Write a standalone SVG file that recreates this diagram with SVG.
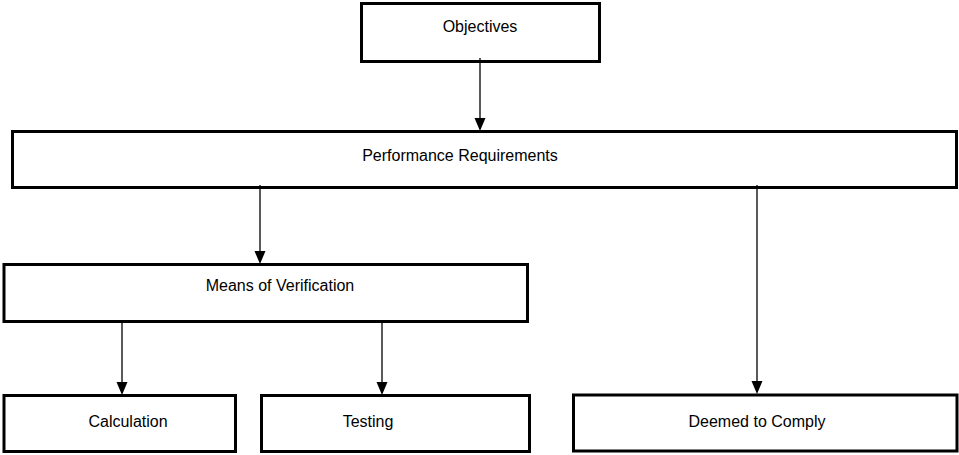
<svg xmlns="http://www.w3.org/2000/svg" width="959" height="455" viewBox="0 0 959 455">
  <style>
    .box { fill: #ffffff; stroke: #000000; stroke-width: 3; }
    .label { font-family: "Liberation Sans", Arial, sans-serif; font-size: 16px; fill: #000000; text-anchor: middle; }
    .link { stroke: #000000; stroke-width: 1.3; fill: none; }
    .head { fill: #000000; }
  </style>

  <rect width="959" height="455" fill="#ffffff"/>

  <g id="objectives">
    <rect class="box" x="361.5" y="3.5" width="238" height="58"/>
    <text class="label" x="480" y="32">Objectives</text>
  </g>

  <g id="performance-requirements">
    <rect class="box" x="12.5" y="131.5" width="944" height="56"/>
    <text class="label" x="460" y="161">Performance Requirements</text>
  </g>

  <g id="means-of-verification">
    <rect class="box" x="4" y="264.5" width="523.5" height="57"/>
    <text class="label" x="280" y="291">Means of Verification</text>
  </g>

  <g id="calculation">
    <rect class="box" x="4" y="395.5" width="231.5" height="56"/>
    <text class="label" x="128" y="427">Calculation</text>
  </g>

  <g id="testing">
    <rect class="box" x="261.5" y="395.5" width="268" height="56"/>
    <text class="label" x="368" y="427">Testing</text>
  </g>

  <g id="deemed-to-comply">
    <rect class="box" x="573.5" y="395" width="383.5" height="56"/>
    <text class="label" x="757" y="427">Deemed to Comply</text>
  </g>

  <!-- connectors: vertical shafts with solid triangular heads -->
  <g id="connectors">
    <line class="link" x1="480" y1="58" x2="480" y2="120"/>
    <line class="link" x1="260" y1="185" x2="260" y2="253"/>
    <line class="link" x1="122" y1="321" x2="122" y2="384"/>
    <line class="link" x1="382" y1="321" x2="382" y2="384"/>
    <line class="link" x1="757" y1="185" x2="757" y2="383"/>
    <path class="head" d="M474.5,118 L485.5,118 L480,131 Z"/>
    <path class="head" d="M254.5,251 L265.5,251 L260,264 Z"/>
    <path class="head" d="M116.5,382 L127.5,382 L122,395 Z"/>
    <path class="head" d="M376.5,382 L387.5,382 L382,395 Z"/>
    <path class="head" d="M751.5,381 L762.5,381 L757,394 Z"/>
  </g>
</svg>
